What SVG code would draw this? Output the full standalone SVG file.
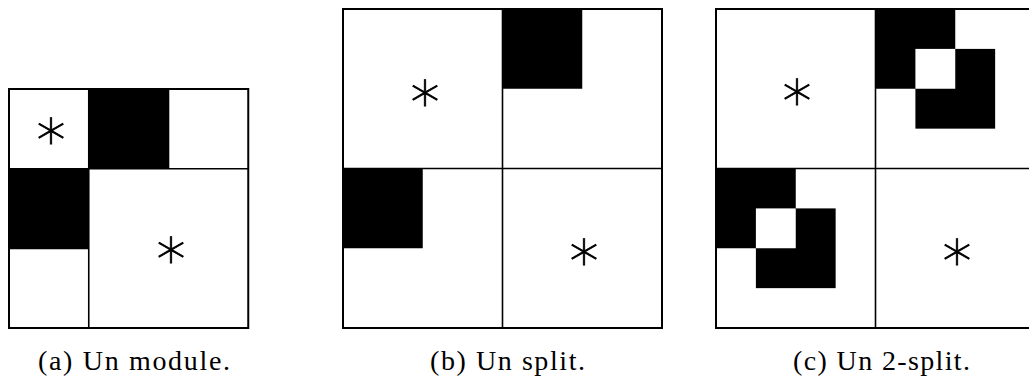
<svg xmlns="http://www.w3.org/2000/svg" width="1029" height="381" viewBox="0 0 1029 381">
<style>
.frame{fill:none;stroke:#000;stroke-width:2}
.ln{stroke:#000;stroke-width:1.6;fill:none}
.blk{fill:#000}
.wh{fill:#fff}
.star{font-family:"DejaVu Sans",sans-serif;font-size:58px;font-weight:200;text-anchor:middle;dominant-baseline:central;fill:#000;stroke:#000;stroke-width:0.9}
.cap{font-family:"Liberation Serif",serif;font-size:28px;fill:#000}
</style>
<rect width="1029" height="381" fill="#fff"/>
<g id="panel-a">
  <rect class="blk" x="88.75" y="89" width="79.75" height="79.75"/>
  <rect class="blk" x="9" y="168.75" width="79.75" height="79.75"/>
  <line class="ln" x1="9" y1="168.75" x2="248.25" y2="168.75"/>
  <line class="ln" x1="88.75" y1="89" x2="88.75" y2="328"/>
  <line class="ln" x1="168.5" y1="89" x2="168.5" y2="168.75"/>
  <line class="ln" x1="9" y1="248.5" x2="88.75" y2="248.5"/>
  <rect class="frame" x="9" y="89" width="239.25" height="239"/>
  <text class="star" x="51" y="129">∗</text>
  <text class="star" x="171" y="248">∗</text>
  <text class="cap" x="38" y="370" textLength="192" lengthAdjust="spacing">(a) Un module.</text>
</g>
<g id="panel-b">
  <rect class="blk" x="502.5" y="9" width="79.75" height="79.75"/>
  <rect class="blk" x="343" y="168.5" width="79.75" height="79.75"/>
  <line class="ln" x1="502.5" y1="9" x2="502.5" y2="328"/>
  <line class="ln" x1="343" y1="168.5" x2="662" y2="168.5"/>
  <rect class="frame" x="343" y="9" width="319" height="319"/>
  <text class="star" x="425" y="91">∗</text>
  <text class="star" x="584" y="250">∗</text>
  <text class="cap" x="430" y="370" textLength="155" lengthAdjust="spacing">(b) Un split.</text>
</g>
<g id="panel-c">
  <rect class="blk" x="875.5" y="9" width="79.75" height="79.75"/>
  <rect class="blk" x="915.4" y="48.9" width="79.75" height="79.75"/>
  <rect class="wh" x="915.4" y="48.9" width="39.85" height="39.85"/>
  <rect class="blk" x="716" y="168.5" width="79.75" height="79.75"/>
  <rect class="blk" x="755.9" y="208.4" width="79.75" height="79.75"/>
  <rect class="wh" x="755.9" y="208.4" width="39.85" height="39.85"/>
  <line class="ln" x1="875.5" y1="9" x2="875.5" y2="328"/>
  <line class="ln" x1="716" y1="168.5" x2="1035" y2="168.5"/>
  <rect class="frame" x="716" y="9" width="319" height="319"/>
  <text class="star" x="797" y="90">∗</text>
  <text class="star" x="957" y="250">∗</text>
  <text class="cap" x="793" y="370" textLength="177" lengthAdjust="spacing">(c) Un 2-split.</text>
</g>
</svg>
